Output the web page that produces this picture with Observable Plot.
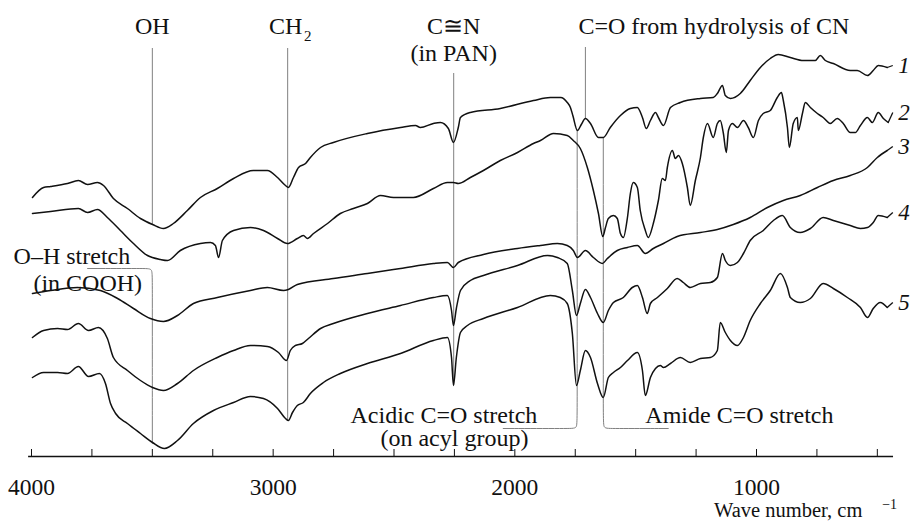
<!DOCTYPE html>
<html><head><meta charset="utf-8">
<script src="https://cdn.jsdelivr.net/npm/d3@7"></script>
<script src="https://cdn.jsdelivr.net/npm/@observablehq/plot@0.6"></script>
<style>body{margin:0;background:#fff}</style>
</head><body><div id="chart"></div>
<script>
// FTIR spectra: [wave number (cm^-1), relative transmittance (a.u.)]
const spectrum1 = [[3996,263],[3950,273],[3921,274],[3851,277],[3806,280],[3768,276],[3727,278],[3702,275],[3661,262],[3603,252],[3549,242],[3499,236],[3454,232],[3413,237],[3355,250],[3301,263],[3231,272],[3164,282],[3082,290],[3024,290],[2982,283],[2949,275],[2937,273],[2916,283],[2895,293],[2866,297],[2846,303],[2804,313],[2751,318],[2610,327],[2473,333],[2411,335],[2391,333],[2337,337],[2308,338],[2275,332],[2254,318],[2234,333],[2225,343],[2184,348],[2060,352],[1923,360],[1853,363],[1810,363],[1783,358],[1770,353],[1760,345],[1741,330],[1725,336],[1708,342],[1687,337],[1654,323],[1634,323],[1605,333],[1563,345],[1522,352],[1493,353],[1472,343],[1456,332],[1439,340],[1418,348],[1406,343],[1385,335],[1356,353],[1315,358],[1232,362],[1179,363],[1162,367],[1141,375],[1129,365],[1108,362],[1067,367],[1026,380],[984,393],[943,402],[910,406],[860,403],[806,400],[757,400],[736,405],[715,400],[682,397],[612,390],[583,390],[541,385],[517,390],[496,395],[459,393]];
const spectrum2 = [[3996,247],[3921,249],[3806,252],[3768,248],[3727,251],[3686,243],[3632,230],[3578,217],[3520,205],[3466,201],[3437,200],[3384,210],[3301,217],[3259,218],[3239,215],[3226,203],[3210,220],[3164,230],[3094,233],[3040,230],[2982,222],[2941,217],[2900,222],[2875,225],[2858,222],[2833,227],[2775,237],[2722,247],[2668,252],[2610,257],[2556,265],[2502,263],[2420,263],[2337,272],[2279,278],[2254,278],[2234,277],[2184,283],[2130,290],[2060,300],[1989,308],[1923,317],[1894,320],[1840,327],[1783,325],[1758,320],[1729,312],[1700,293],[1675,270],[1654,247],[1636,224],[1625,233],[1613,242],[1592,245],[1576,242],[1563,227],[1551,223],[1534,243],[1522,267],[1510,278],[1493,273],[1481,250],[1460,230],[1448,223],[1427,237],[1406,260],[1390,282],[1377,280],[1369,293],[1348,310],[1336,302],[1323,305],[1307,297],[1286,273],[1274,255],[1253,280],[1232,303],[1220,323],[1203,337],[1179,323],[1162,337],[1150,340],[1137,327],[1125,308],[1116,330],[1100,337],[1079,333],[1054,340],[1034,333],[1013,323],[992,340],[972,347],[943,350],[914,363],[897,368],[889,360],[872,333],[864,313],[848,337],[831,343],[827,330],[810,347],[798,358],[777,353],[748,347],[724,343],[695,337],[666,342],[641,337],[612,328],[591,328],[570,335],[541,343],[521,338],[496,348],[475,342],[455,338]];
const spectrum3 = [[3996,167],[3921,170],[3810,173],[3715,170],[3644,162],[3578,152],[3508,142],[3454,139],[3396,145],[3330,157],[3231,163],[3094,170],[3024,173],[2957,170],[2937,171],[2900,176],[2751,182],[2610,187],[2473,192],[2337,197],[2279,198],[2254,193],[2234,198],[2130,206],[1989,212],[1894,215],[1824,217],[1783,215],[1758,210],[1741,203],[1708,210],[1675,203],[1638,197],[1617,202],[1576,210],[1534,213],[1493,215],[1460,207],[1427,212],[1385,217],[1328,224],[1232,228],[1162,231],[1096,236],[1026,243],[955,253],[889,260],[819,265],[748,273],[682,280],[612,285],[541,293],[500,303],[459,310]];
const spectrum4 = [[3996,123],[3950,130],[3892,132],[3851,131],[3806,137],[3764,130],[3723,133],[3686,122],[3661,103],[3603,90],[3549,80],[3499,73],[3454,70],[3396,77],[3330,90],[3231,103],[3164,110],[3094,115],[3024,114],[2978,108],[2945,100],[2929,110],[2908,115],[2879,117],[2854,122],[2804,132],[2751,137],[2610,147],[2473,155],[2337,163],[2279,165],[2262,150],[2254,135],[2242,152],[2225,170],[2184,180],[2130,185],[1989,195],[1865,205],[1824,203],[1783,197],[1762,170],[1745,145],[1729,157],[1708,171],[1687,163],[1658,147],[1634,138],[1613,150],[1592,158],[1551,163],[1514,173],[1493,175],[1472,163],[1452,147],[1439,157],[1410,163],[1369,172],[1328,182],[1303,178],[1274,173],[1232,177],[1191,178],[1162,183],[1141,207],[1129,200],[1108,195],[1079,198],[1054,207],[1026,220],[972,230],[930,240],[893,245],[860,233],[819,228],[777,232],[724,243],[682,240],[612,235],[570,232],[541,233],[517,238],[496,245],[459,243]];
const spectrum5 = [[3996,83],[3950,88],[3892,88],[3851,87],[3806,94],[3764,84],[3719,87],[3694,77],[3673,57],[3652,47],[3603,37],[3549,27],[3499,18],[3450,12],[3396,20],[3330,37],[3247,50],[3164,58],[3094,64],[3040,62],[2982,52],[2949,42],[2937,40],[2920,48],[2900,55],[2875,58],[2846,67],[2792,78],[2722,87],[2610,97],[2473,107],[2337,120],[2279,123],[2262,103],[2254,75],[2242,103],[2225,128],[2196,135],[2130,142],[1989,153],[1853,165],[1812,163],[1783,157],[1762,127],[1745,75],[1729,90],[1708,110],[1687,103],[1658,77],[1634,63],[1613,83],[1592,88],[1563,93],[1534,100],[1493,108],[1472,90],[1460,65],[1439,83],[1418,92],[1398,95],[1385,93],[1356,97],[1315,103],[1274,98],[1232,102],[1191,103],[1162,110],[1150,138],[1129,128],[1108,120],[1079,115],[1054,123],[1026,140],[984,157],[943,170],[901,187],[872,173],[860,163],[819,158],[777,162],[724,177],[682,172],[624,163],[570,153],[541,143],[517,152],[488,158],[459,153]];

const curveNames = ["1", "2", "3", "4", "5"];
const majorTicks = [4000, 3000, 2000, 1000];
const minorTicks = [4000, 3750, 3500, 3250, 3000, 2750, 2500, 2250, 2000, 1750, 1500, 1250, 1000, 750, 500];
// band positions (cm^-1)
const bandOH = 3500, bandCH2 = 2940, bandCN = 2253, bandHydro = 1708, bandAcid = 1742, bandAmide = 1634;

const spectra = [spectrum1, spectrum2, spectrum3, spectrum4, spectrum5];
const rows = spectra.flatMap((s, i) => s.map(([w, t]) => ({w, t, curve: curveNames[i]})));

const labelY = [395, 348, 314, 248, 158];
const labels = curveNames.map((n, i) => ({n, y: labelY[i], endW: spectra[i][spectra[i].length-1][0], endT: spectra[i][spectra[i].length-1][1]}));

const serif = "'Liberation Serif', 'Times New Roman', serif";
const grey = "#808080";

const vlines = [
  {x: bandOH, y1: 236, y2: 412},
  {x: bandCH2, y1: 40, y2: 412},
  {x: bandCN, y1: 75, y2: 387},
  {x: bandHydro, y1: 342, y2: 413}
];
const brackets = [
  [[3768,192],[3533,192],[3500,192],[3500,184],[3500,17]],
  [[bandAcid,330],[bandAcid,40],[bandAcid,32],[1775,32],[2048,32]],
  [[bandAmide,323],[bandAmide,40],[bandAmide,32],[1601,32],[1365,32]]
].flatMap((b, i) => b.map(([x, y]) => ({x, y, b: i})));

const centeredTexts = [
  {x: bandOH, y: 427, text: "OH"},
  {x: bandCN, y: 427, text: "C\u2245N"},
  {x: bandCN, y: 400, text: "(in PAN)"}
];
const leftTexts = [
  {x: 1737, y: 427, text: "C=O from hydrolysis of CN"},
  {x: 4074, y: 197, text: "O\u2013H stretch"},
  {x: 3992, y: 170, text: "(in COOH)"},
  {x: 2680, y: 38, text: "Acidic C=O stretch"},
  {x: 2556, y: 15, text: "(on acyl group)"},
  {x: 1460, y: 38, text: "Amide C=O stretch"}
];

const chart = Plot.plot({
  width: 913,
  height: 525,
  marginLeft: 31,
  marginRight: 12,
  marginTop: 0,
  marginBottom: 69,
  style: {fontFamily: serif, fontSize: "24px", background: "#fff", color: "#111", overflow: "visible"},
  x: {domain: [4000, 400]},
  y: {domain: [0, 460], range: [460, 0], axis: null},
  marks: [
    Plot.ruleX(vlines, {x: "x", y1: "y1", y2: "y2", stroke: grey, strokeWidth: 1}),
    Plot.line(brackets, {x: "x", y: "y", z: "b", curve: "basis", stroke: grey, strokeWidth: 1}),
    Plot.line(rows, {x: "w", y: "t", z: "curve", curve: "monotone-x", stroke: "#111", strokeWidth: 1.5}),
    Plot.link(labels, {x1: "endW", y1: "endT", x2: 436, y2: d => d.y, stroke: "#111", strokeWidth: 1.3}),
    Plot.text(labels, {x: 413, y: "y", text: "n", textAnchor: "start", lineAnchor: "middle", fontStyle: "italic", fontSize: 23, fill: "#111", fontFamily: serif}),
    Plot.text(centeredTexts, {x: "x", y: "y", text: "text", textAnchor: "middle", lineAnchor: "bottom", fontSize: 24, fill: "#111", fontFamily: serif}),
    Plot.text(leftTexts, {x: "x", y: "y", text: "text", textAnchor: "start", lineAnchor: "bottom", fontSize: 24, fill: "#111", fontFamily: serif}),
    Plot.text(["CH"], {x: 2879, y: 427, text: d => d, textAnchor: "end", lineAnchor: "bottom", fontSize: 24, fill: "#111", fontFamily: serif}),
    Plot.text(["2"], {x: 2872, y: 420, text: d => d, textAnchor: "start", lineAnchor: "bottom", fontSize: 15, fill: "#111", fontFamily: serif}),
    Plot.ruleY([4], {y: d => d, x1: 4012, x2: 433, stroke: "#111", strokeWidth: 1.5}),
    Plot.ruleX(minorTicks, {x: d => d, y1: 4, y2: 11, stroke: "#111", strokeWidth: 1}),
    Plot.axisX({ticks: majorTicks, tickSize: 0, tickPadding: 22, tickFormat: d3.format("d"), fontSize: 23.5, fill: "#111", fontFamily: serif, fontVariant: "normal"}),
    Plot.text(["Wave number, cm"], {x: 562, y: -56, text: d => d, textAnchor: "end", lineAnchor: "bottom", fontSize: 20.5, fill: "#111", fontFamily: serif}),
    Plot.text(["\u22121"], {x: 480, y: -48, text: d => d, textAnchor: "start", lineAnchor: "bottom", fontSize: 14, fill: "#111", fontFamily: serif})
  ]
});
document.getElementById("chart").appendChild(chart);
</script>
</body></html>
